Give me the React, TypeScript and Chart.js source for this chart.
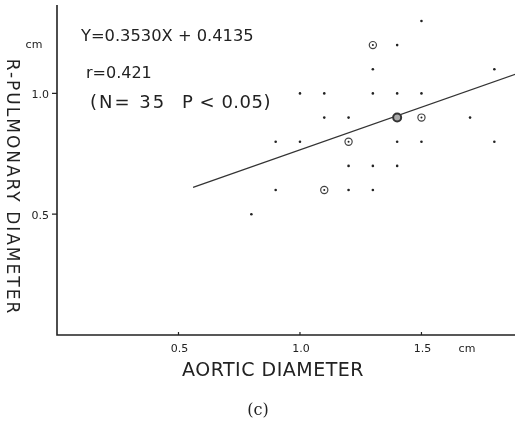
import { useEffect, useRef } from "react";
import { Chart, registerables } from "chart.js";

Chart.register(...registerables);

// ---- data ----
const dotPoints = [
  { x: 1.5, y: 1.3 },
  { x: 1.4, y: 1.2 },
  { x: 1.3, y: 1.1 }, { x: 1.8, y: 1.1 },
  { x: 1.0, y: 1.0 }, { x: 1.1, y: 1.0 }, { x: 1.3, y: 1.0 }, { x: 1.4, y: 1.0 }, { x: 1.5, y: 1.0 },
  { x: 1.1, y: 0.9 }, { x: 1.2, y: 0.9 }, { x: 1.7, y: 0.9 },
  { x: 0.9, y: 0.8 }, { x: 1.0, y: 0.8 }, { x: 1.4, y: 0.8 }, { x: 1.5, y: 0.8 }, { x: 1.8, y: 0.8 },
  { x: 1.2, y: 0.7 }, { x: 1.3, y: 0.7 }, { x: 1.4, y: 0.7 },
  { x: 0.9, y: 0.6 }, { x: 1.2, y: 0.6 }, { x: 1.3, y: 0.6 },
  { x: 0.8, y: 0.5 },
];
const circledPoints = [
  { x: 1.3, y: 1.2 },
  { x: 1.5, y: 0.9 },
  { x: 1.2, y: 0.8 },
  { x: 1.1, y: 0.6 },
];
const heavyCircledPoints = [{ x: 1.4, y: 0.9 }];
const regressionLine = [
  { x: 0.56, y: 0.611 },
  { x: 1.9, y: 1.084 },
];
const xTicks = [0.5, 1.0, 1.5];
const xTickLabels = ["0.5", "1.0", "1.5"];
const yTicks = [0.5, 1.0];
const yTickLabels = ["0.5", "1.0"];
const equationText = "Y=0.3530X + 0.4135";
const rText = "r=0.421";
const nText = "(N= 35";
const pText = "P < 0.05)";
const xTitle = "AORTIC DIAMETER";
const yTitle = "R-PULMONARY DIAMETER";
const unitText = "cm";
const captionText = "(c)";

const INK = "#222";

const decorPlugin = {
  id: "decor",
  afterDraw(chart: any) {
    const ctx = chart.ctx as CanvasRenderingContext2D;
    const xs = chart.scales.x;
    const ys = chart.scales.y;
    const area = chart.chartArea;
    ctx.save();
    ctx.strokeStyle = INK;
    ctx.fillStyle = INK;
    // axes lines
    ctx.lineWidth = 1.6;
    ctx.beginPath();
    ctx.moveTo(area.left, area.top);
    ctx.lineTo(area.left, area.bottom);
    ctx.lineTo(area.right, area.bottom);
    ctx.stroke();
    // ticks
    ctx.lineWidth = 1.2;
    ctx.beginPath();
    xTicks.forEach((v) => {
      const px = xs.getPixelForValue(v);
      ctx.moveTo(px, area.bottom - 3);
      ctx.lineTo(px, area.bottom);
    });
    yTicks.forEach((v) => {
      const py = ys.getPixelForValue(v);
      ctx.moveTo(area.left - 5, py);
      ctx.lineTo(area.left, py);
    });
    ctx.stroke();
    // tick labels
    ctx.font = "11px 'DejaVu Sans'";
    ctx.textBaseline = "middle";
    ctx.textAlign = "center";
    xTicks.forEach((v, i) => {
      ctx.fillText(xTickLabels[i], xs.getPixelForValue(v) + 1, area.bottom + 14);
    });
    ctx.fillText(unitText, 467, area.bottom + 14);
    ctx.textAlign = "right";
    yTicks.forEach((v, i) => {
      ctx.fillText(yTickLabels[i], area.left - 8, ys.getPixelForValue(v) + 2);
    });
    ctx.textAlign = "center";
    ctx.fillText(unitText, 34, 45);
    // annotation
    ctx.textAlign = "left";
    ctx.font = "16.3px 'DejaVu Sans'";
    ctx.fillText(equationText, 81, 37);
    ctx.font = "16px 'DejaVu Sans'";
    ctx.fillText(rText, 86, 74);
    ctx.font = "18px 'DejaVu Sans'";
    (ctx as any).letterSpacing = "2px";
    ctx.fillText(nText, 90, 103);
    (ctx as any).letterSpacing = "0.5px";
    ctx.fillText(pText, 182, 103);
    // x title
    ctx.textAlign = "center";
    (ctx as any).letterSpacing = "0.5px";
    ctx.font = "19px 'DejaVu Sans'";
    ctx.fillText(xTitle, 273, 371);
    // y title (reads top to bottom)
    (ctx as any).letterSpacing = "2px";
    ctx.font = "17px 'DejaVu Sans'";
    ctx.save();
    ctx.translate(11, 187);
    ctx.rotate(Math.PI / 2);
    ctx.fillText(yTitle, 0, 0);
    ctx.restore();
    (ctx as any).letterSpacing = "0px";
    // caption
    ctx.font = "16px 'DejaVu Serif'";
    ctx.fillText(captionText, 258, 411);
    ctx.restore();
  },
};

export default function App() {
  const ref = useRef<HTMLCanvasElement | null>(null);
  useEffect(() => {
    if (!ref.current) return;
    const chart = new Chart(ref.current, {
      type: "scatter",
      data: {
        datasets: [
          {
            type: "line",
            data: regressionLine,
            borderColor: "#333",
            borderWidth: 1.3,
            pointRadius: 0,
            fill: false,
            order: 3,
          } as any,
          {
            data: heavyCircledPoints,
            pointRadius: 4,
            borderWidth: 2,
            borderColor: "#333",
            backgroundColor: "#aaa",
            order: 2,
          },
          {
            data: circledPoints,
            pointRadius: 3.6,
            borderWidth: 1.2,
            borderColor: "#444",
            backgroundColor: "#fff",
            order: 2,
          },
          {
            data: circledPoints,
            pointRadius: 1,
            borderWidth: 0,
            backgroundColor: INK,
            order: 1,
          },
          {
            data: dotPoints,
            pointRadius: 1.3,
            borderWidth: 0,
            backgroundColor: INK,
            order: 1,
          },
        ],
      },
      options: {
        responsive: false,
        animation: false,
        devicePixelRatio: 1,
        layout: { autoPadding: false, padding: { left: 57, top: 5, right: 0, bottom: 91 } },
        plugins: { legend: { display: false }, tooltip: { enabled: false } },
        scales: {
          x: { type: "linear", min: 0, max: 1.885, display: false },
          y: { type: "linear", min: 0, max: 1.366, display: false },
        },
      },
      plugins: [decorPlugin],
    });
    return () => chart.destroy();
  }, []);
  return (
    <div style={{ position: "absolute", left: 0, top: 0, width: 515, height: 426, background: "#fff" }}>
      <canvas ref={ref} width={515} height={426} />
    </div>
  );
}
